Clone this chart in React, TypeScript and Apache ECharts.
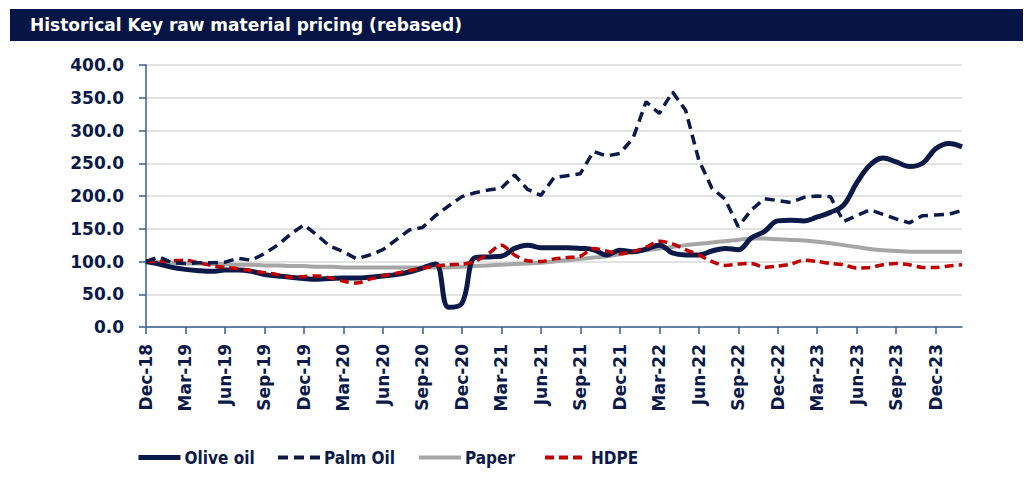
import React, { useEffect, useRef } from "react";
import * as echarts from "echarts";

const months: string[] = [
  "Dec-18",
  "Jan-19", "Feb-19", "Mar-19", "Apr-19", "May-19", "Jun-19", "Jul-19", "Aug-19", "Sep-19", "Oct-19", "Nov-19", "Dec-19",
  "Jan-20", "Feb-20", "Mar-20", "Apr-20", "May-20", "Jun-20", "Jul-20", "Aug-20", "Sep-20", "Oct-20", "Nov-20", "Dec-20",
  "Jan-21", "Feb-21", "Mar-21", "Apr-21", "May-21", "Jun-21", "Jul-21", "Aug-21", "Sep-21", "Oct-21", "Nov-21", "Dec-21",
  "Jan-22", "Feb-22", "Mar-22", "Apr-22", "May-22", "Jun-22", "Jul-22", "Aug-22", "Sep-22", "Oct-22", "Nov-22", "Dec-22",
  "Jan-23", "Feb-23", "Mar-23", "Apr-23", "May-23", "Jun-23", "Jul-23", "Aug-23", "Sep-23", "Oct-23", "Nov-23", "Dec-23",
  "Jan-24", "Feb-24",
];

const oliveOil: number[] = [
  100, 96, 91, 88, 86, 85, 87, 87, 85, 80, 78, 76, 74,
  73, 74, 75, 75, 76, 78, 80, 84, 90, 96, 30, 36,
  106, 107, 108, 120, 125, 121, 121, 121, 120, 118, 110, 117,
  115, 119, 125, 113, 110, 110, 116, 120, 118, 136, 146, 162,
  163, 162, 168, 175, 186, 220, 247, 258, 252, 245, 250, 272,
  280, 275,
];

const palmOil: number[] = [
  100, 107, 98, 97, 98, 98, 99, 105, 102, 112, 125, 142, 156,
  140, 123, 115, 104, 110, 118, 133, 148, 152, 170, 185, 199,
  205, 209, 212, 232, 210, 201, 228, 231, 234, 268, 261, 265,
  288, 344, 326, 359, 331, 255, 212, 195, 153, 179, 196, 193,
  190, 198, 200, 199, 161, 170, 179, 172, 165, 159, 170, 171,
  172, 178,
];

const paper: number[] = [
  100, 99, 98, 97, 97, 96, 96, 95, 95, 94, 94, 93, 93,
  92, 92, 91, 91, 91, 91, 91, 91, 91, 91, 91, 92,
  93, 94, 95, 96, 97, 98, 100, 102, 104, 106, 108, 111,
  114, 117, 120, 122, 125, 127, 129, 131, 133, 135, 135, 134,
  133, 132, 130, 128, 125, 122, 119, 117, 116, 115, 115, 115,
  115, 115,
];

const hdpe: number[] = [
  100, 100, 101, 102, 98, 94, 91, 89, 86, 83, 80, 76, 77,
  78, 75, 70, 67, 73, 78, 82, 86, 90, 93, 95, 96,
  100, 112, 125, 110, 101, 100, 104, 106, 108, 120, 116, 112,
  115, 122, 131, 127, 118, 110, 100, 94, 96, 97, 91, 93,
  96, 102, 100, 97, 95, 90, 91, 95, 97, 95, 91, 91,
  93, 95,
];

const seriesNames: string[] = ["Olive oil", "Palm Oil", "Paper", "HDPE"];
const titleText = "Historical Key raw material pricing (rebased)";

const NAVY = "#0B1A48";
const AXIS = "#3B5F91";

export default function App() {
  const ref = useRef<HTMLDivElement>(null);

  useEffect(() => {
    if (!ref.current) return;
    const chart = echarts.init(ref.current, null, { renderer: "svg" });
    const legendPos = [131, 271, 412, 538];
    const legendWidths = [5, 4, 4, 4];
    chart.setOption({
      animation: false,
      backgroundColor: "#ffffff",
      graphic: [
        {
          type: "rect",
          shape: { x: 10, y: 9, width: 1013, height: 32 },
          style: { fill: "#061545" },
        },
        {
          type: "text",
          x: 30,
          y: 25,
          style: {
            text: titleText,
            fill: "#ffffff",
            font: "bold 17px 'DejaVu Sans'",
            verticalAlign: "middle",
          },
        },
      ],
      grid: { left: 146, right: 72, top: 65, bottom: 161, containLabel: false },
      legend: seriesNames.map((n, i) => ({
        data: [n],
        left: legendPos[i],
        top: 444,
        itemWidth: 42,
        itemHeight: 14,
        itemGap: 4,
        itemStyle: { opacity: 0 },
        lineStyle: { width: legendWidths[i] },
        textStyle: {
          color: NAVY,
          fontWeight: "bold",
          fontSize: 17,
          fontFamily: "'Liberation Sans Narrow', 'DejaVu Sans Condensed', Roboto",
          padding: [0, 0, 0, -1],
        },
      })),
      xAxis: {
        type: "category",
        data: months,
        boundaryGap: false,
        axisLine: { lineStyle: { color: AXIS, width: 1.5 } },
        axisTick: { show: true, interval: 2, length: 7, lineStyle: { color: AXIS, width: 1.5 } },
        axisLabel: {
          interval: 2,
          rotate: 90,
          margin: 17,
          color: NAVY,
          fontWeight: "bold",
          fontSize: 17,
          fontFamily: "'DejaVu Sans'",
        },
        splitLine: { show: false },
      },
      yAxis: {
        type: "value",
        min: 0,
        max: 400,
        interval: 50,
        axisLine: { show: true, lineStyle: { color: AXIS, width: 1.5 } },
        axisTick: { show: true, length: 7, lineStyle: { color: AXIS, width: 1.5 } },
        axisLabel: {
          margin: 22,
          color: NAVY,
          fontWeight: "bold",
          fontSize: 17,
          fontFamily: "'DejaVu Sans'",
          formatter: (v: number) => v.toFixed(1),
        },
        splitLine: { lineStyle: { color: "#D9D9D9", width: 1.5 } },
      },
      series: [
        {
          name: "Paper",
          type: "line",
          data: paper,
          smooth: 0.4,
          symbol: "none",
          z: 2,
          lineStyle: { color: "#A6A6A6", width: 4 },
          itemStyle: { color: "#A6A6A6" },
        },
        {
          name: "Olive oil",
          type: "line",
          data: oliveOil,
          smooth: 0.4,
          symbol: "none",
          z: 3,
          lineStyle: { color: NAVY, width: 5 },
          itemStyle: { color: NAVY },
        },
        {
          name: "HDPE",
          type: "line",
          data: hdpe,
          smooth: 0.3,
          symbol: "none",
          z: 4,
          lineStyle: { color: "#C00000", width: 3.5, type: [9, 5] },
          itemStyle: { color: "#C00000" },
        },
        {
          name: "Palm Oil",
          type: "line",
          data: palmOil,
          smooth: false,
          symbol: "none",
          z: 5,
          lineStyle: { color: NAVY, width: 3.5, type: [10, 6] },
          itemStyle: { color: NAVY },
        },
      ],
    });
    return () => chart.dispose();
  }, []);

  return (
    <div
      ref={ref}
      style={{ position: "fixed", left: 0, top: 0, width: 1034, height: 488 }}
    />
  );
}
